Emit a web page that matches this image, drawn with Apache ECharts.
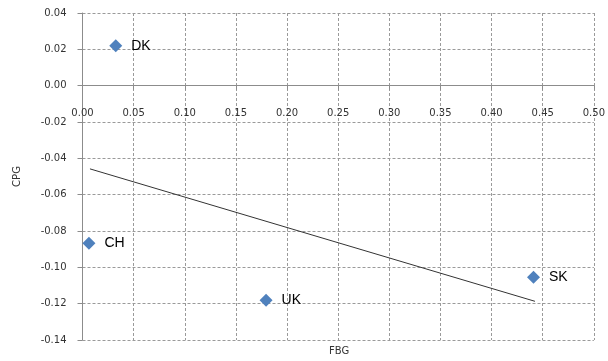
<!DOCTYPE html>
<html><head><meta charset="utf-8">
<script src="https://cdn.jsdelivr.net/npm/echarts@6/dist/echarts.min.js"></script>
<style>html,body{margin:0;padding:0;background:#fff}#c{width:608px;height:361px}</style>
</head><body><div id="c"></div>
<script>
var countries = ['DK', 'CH', 'UK', 'SK'];
var fbgValues = [0.0325, 0.0063, 0.1795, 0.441];
var cpgValues = [0.022, -0.0867, -0.1181, -0.1055];
var trendX = [0.0073, 0.4424];
var trendY = [-0.0458, -0.1187];
var xTicks = [0.00, 0.05, 0.10, 0.15, 0.20, 0.25, 0.30, 0.35, 0.40, 0.45, 0.50];
var yTicks = [0.04, 0.02, 0.00, -0.02, -0.04, -0.06, -0.08, -0.10, -0.12, -0.14];

var chart = echarts.init(document.getElementById('c'));
var pts = countries.map(function (c, i) { return { name: c, value: [fbgValues[i], cpgValues[i]] }; });
var trend = trendX.map(function (x, i) { return [x, trendY[i]]; });
var gridLine = { show: true, lineStyle: { color: '#9a9a9a', type: [3, 2], width: 1 } };
var gridTop = 13, gridBottom = 21, plotH = 361 - gridTop - gridBottom;
var yMin = yTicks[yTicks.length - 1], yMax = yTicks[0];
var zeroOffset = -plotH * (0 - yMin) / (yMax - yMin);
chart.setOption({
  animation: false,
  grid: { left: 82.5, right: 9.5, top: gridTop, bottom: gridBottom, containLabel: false },
  xAxis: {
    type: 'value', min: xTicks[0], max: xTicks[xTicks.length - 1], interval: 0.05,
    position: 'bottom', offset: zeroOffset,
    axisLine: { show: true, onZero: false, lineStyle: { color: '#8c8c8c', width: 1 } },
    axisTick: { show: true, length: 4, lineStyle: { color: '#8c8c8c' } },
    axisLabel: { margin: 23, color: '#333', fontFamily: 'DejaVu Sans', fontSize: 10,
      formatter: function (v) { return v.toFixed(2); } },
    splitLine: gridLine
  },
  yAxis: {
    type: 'value', min: yMin, max: yMax, interval: 0.02,
    name: 'CPG', nameLocation: 'middle', nameGap: 60, nameRotate: 90,
    nameTextStyle: { color: '#333', fontFamily: 'DejaVu Sans', fontSize: 10 },
    axisLine: { show: true, lineStyle: { color: '#8c8c8c', width: 1 } },
    axisTick: { show: true, length: 5, lineStyle: { color: '#8c8c8c' } },
    axisLabel: { margin: 16, color: '#333', fontFamily: 'DejaVu Sans', fontSize: 10,
      formatter: function (v) { return v.toFixed(2); } },
    splitLine: gridLine
  },
  graphic: [{ type: 'text', left: 329, top: 346,
    style: { text: 'FBG', fill: '#333', font: '10px "DejaVu Sans"' } }],
  series: [
    { type: 'scatter', data: pts, symbol: 'diamond', symbolSize: 13,
      itemStyle: { color: '#4f81bd', opacity: 1 },
      label: { show: true, position: 'right', distance: 9, formatter: '{b}',
        color: '#000', fontFamily: 'Liberation Sans', fontSize: 14 } },
    { type: 'line', data: trend, symbol: 'none', lineStyle: { color: '#333', width: 1 } }
  ]
});
</script></body></html>
